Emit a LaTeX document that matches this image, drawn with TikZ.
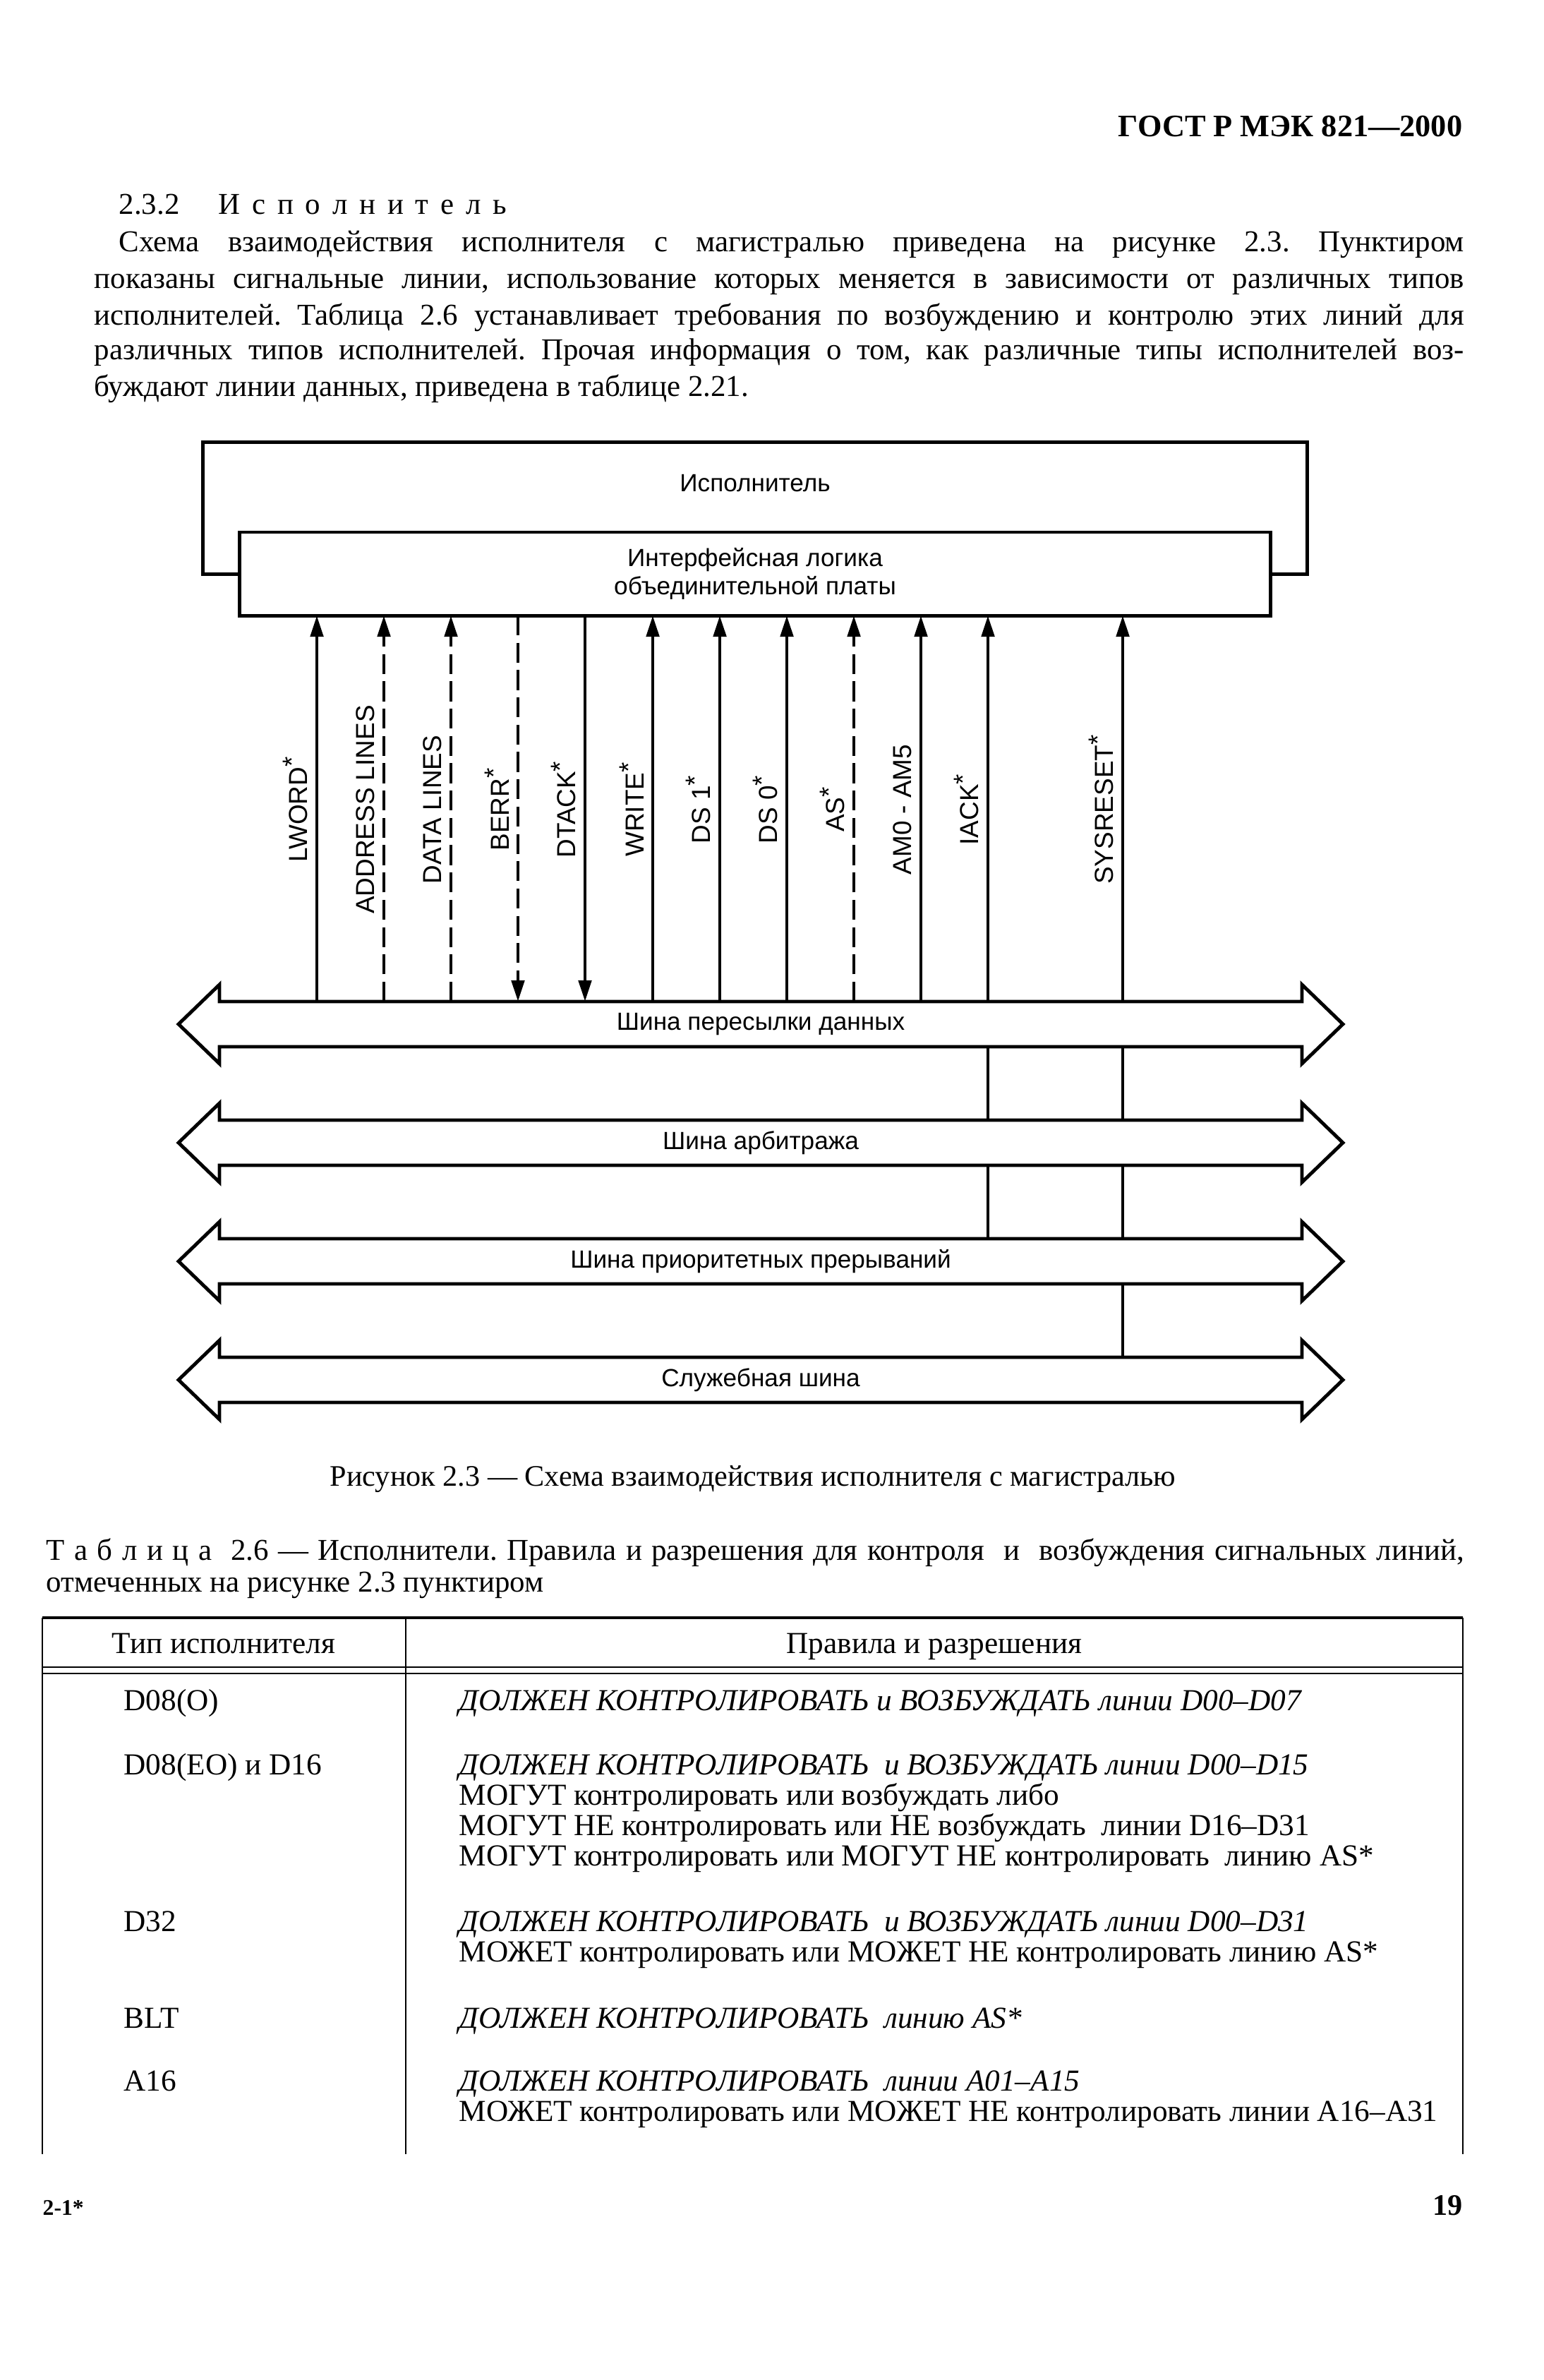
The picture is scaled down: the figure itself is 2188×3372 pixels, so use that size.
\documentclass[tikz,border=0pt]{standalone}
\usepackage{fontspec}
\setmainfont{Liberation Serif}
\newfontfamily\schemafont{Liberation Sans}
\usetikzlibrary{arrows.meta,calc,positioning}

\newcommand\nstar{\raisebox{0.25em}{*}}

\tikzset{
  schema/.style={font=\schemafont\fontsize{10}{11.6}\selectfont, inner sep=0},
  blockbox/.style={draw, line width=1.4pt, inner sep=0, outer sep=0},
  busline/.style={line width=1.4pt, line join=miter},
  sig/.style={line width=1.4pt},
  optsig/.style={sig, dash pattern=on 8pt off 3pt},
  sigtip/.style={-{Triangle[length=3mm,width=1.8mm]}},
  siglabel/.style={schema, font=\schemafont\fontsize{10.5}{12}\selectfont, rotate=90, anchor=south},
  txt/.style={inner sep=0, anchor=base west, font=\fontsize{12.2}{14}\selectfont},
  cell/.style={txt, font=\fontsize{12.3}{12.3}\selectfont},
  tabrule/.style={line width=0.7pt},
}
\tikzset{
  pics/bus/.style={
    code={
      \coordinate (-top) at (0,-32);
      \coordinate (-bot) at (0,32);
      % shaft with a head at each end
      \draw[busline] (-767,-32) -- (767,-32) -- (767,-56) -- (825,0) -- (767,56) -- (767,32)
        -- (-767,32) -- (-767,56) -- (-825,0) -- (-767,-56) -- cycle;
      \node[schema] (-label) at (0,0) {#1};
}}}

\begin{document}
\frenchspacing
\begin{tikzpicture}[x=0.01cm, y=-0.01cm]
  \fill[white] (0,0) rectangle (2188,3372);
  \useasboundingbox (0,0) rectangle (2188,3372);

  % page head and text
  \node[txt, anchor=base east, font=\bfseries\fontsize{12.6}{14}\selectfont] (gost) at (2073,193) {ГОСТ Р МЭК 821---2000};
  \node[txt] (secnum) at (168,303) {2.3.2};
  \node[txt] (sectitle) at (309,303) {\makebox[4.08cm][s]{И с п о л н и т е л ь}};
  \node[txt] (para1) at (168,356) {\makebox[19.05cm][s]{Схема взаимодействия исполнителя с магистралью приведена на рисунке 2.3. Пунктиром}};
  \node[txt] (para2) at (133,408) {\makebox[19.4cm][s]{показаны сигнальные линии, использование которых меняется в зависимости от различных типов}};
  \node[txt] (para3) at (133,460) {\makebox[19.4cm][s]{исполнителей. Таблица 2.6 устанавливает требования по возбуждению и контролю этих линий для}};
  \node[txt] (para4) at (133,509) {\makebox[19.4cm][s]{различных типов исполнителей. Прочая информация о том, как различные типы исполнителей воз-}};
  \node[txt] (para5) at (133,561) {буждают линии данных, приведена в таблице 2.21.};

  % slave and its interface logic
  \node[blockbox, minimum width=15.64cm, minimum height=1.87cm] (slave) at (1070,720) {};
  \node[schema] (slavename) at (1070,685) {Исполнитель};
  \node[blockbox, fill=white, minimum width=14.6cm, minimum height=1.18cm, align=center, schema] (logic) at (1070,813) {Интерфейсная логика\\объединительной платы};

  % buses
  \pic (dbus) at (1078,1451) {bus=Шина пересылки данных};
  \pic (abus) at (1078,1619) {bus=Шина арбитража};
  \pic (ibus) at (1078,1787) {bus=Шина приоритетных прерываний};
  \pic (sbus) at (1078,1955) {bus=Служебная шина};

  % signal lines
  \coordinate (lword) at (449,0);
  \coordinate (addr) at (544,0);
  \coordinate (data) at (639,0);
  \coordinate (berr) at (734,0);
  \coordinate (dtack) at (829,0);
  \coordinate (write) at (925,0);
  \coordinate (dsone) at (1020,0);
  \coordinate (dszero) at (1115,0);
  \coordinate (asl) at (1210,0);
  \coordinate (am) at (1305,0);
  \coordinate (iack) at (1400,0);
  \coordinate (sysreset) at (1591,0);
  \draw[sig, sigtip] (lword |- dbus-top) -- (lword |- logic.south);
  \draw[optsig, sigtip] (addr |- dbus-top) -- (addr |- logic.south);
  \draw[optsig, sigtip] (data |- dbus-top) -- (data |- logic.south);
  \draw[optsig, sigtip] (berr |- logic.south) -- (berr |- dbus-top);
  \draw[sig, sigtip] (dtack |- logic.south) -- (dtack |- dbus-top);
  \draw[sig, sigtip] (write |- dbus-top) -- (write |- logic.south);
  \draw[sig, sigtip] (dsone |- dbus-top) -- (dsone |- logic.south);
  \draw[sig, sigtip] (dszero |- dbus-top) -- (dszero |- logic.south);
  \draw[optsig, sigtip] (asl |- dbus-top) -- (asl |- logic.south);
  \draw[sig, sigtip] (am |- dbus-top) -- (am |- logic.south);
  \draw[sig, sigtip] (iack |- dbus-top) -- (iack |- logic.south);
  \draw[sig, sigtip] (sysreset |- dbus-top) -- (sysreset |- logic.south);
  \draw[sig] (iack |- dbus-bot) -- (iack |- abus-top);
  \draw[sig] (iack |- abus-bot) -- (iack |- ibus-top);
  \draw[sig] (sysreset |- dbus-bot) -- (sysreset |- abus-top);
  \draw[sig] (sysreset |- abus-bot) -- (sysreset |- ibus-top);
  \draw[sig] (sysreset |- ibus-bot) -- (sysreset |- sbus-top);

  \node[siglabel] (lword-text) at (437,1147) {LWORD\nstar};
  \node[siglabel] (addr-text) at (532,1147) {ADDRESS LINES};
  \node[siglabel] (data-text) at (627,1147) {DATA LINES};
  \node[siglabel] (berr-text) at (722,1147) {BERR\nstar};
  \node[siglabel] (dtack-text) at (817,1147) {DTACK\nstar};
  \node[siglabel] (write-text) at (913,1147) {WRITE\nstar};
  \node[siglabel] (dsone-text) at (1008,1147) {DS 1\nstar};
  \node[siglabel] (dszero-text) at (1103,1147) {DS 0\nstar};
  \node[siglabel] (asl-text) at (1198,1147) {AS\nstar};
  \node[siglabel] (am-text) at (1293,1147) {AM0 - AM5};
  \node[siglabel] (iack-text) at (1388,1147) {IACK\nstar};
  \node[siglabel] (sysreset-text) at (1579,1147) {SYSRESET\nstar};

  % captions
  \node[txt, anchor=base, font=\fontsize{12}{14}\selectfont] (figcap) at (1067,2105) {Рисунок 2.3 --- Схема взаимодействия исполнителя с магистралью};
  \node[txt] (tabcap1) at (65,2210) {\makebox[20.08cm][s]{Т а б л и ц а\ \ 2.6 --- Исполнители. Правила и разрешения для контроля\ \ и\ \ возбуждения сигнальных линий,}};
  \node[txt] (tabcap2) at (65,2255) {отмеченных на рисунке 2.3 пунктиром};

  % table
  \draw[line width=1.2pt] (60,2292) -- (2073,2292);
  \draw[tabrule] (60,2362) -- (2073,2362);
  \draw[tabrule] (60,2371) -- (2073,2371);
  \draw[tabrule] (60,2292) -- (60,3052);
  \draw[tabrule] (575,2292) -- (575,3052);
  \draw[tabrule] (2073,2292) -- (2073,3052);
  \node[cell, anchor=base] (head1) at (317,2342) {Тип исполнителя};
  \node[cell, anchor=base] (head2) at (1324,2342) {Правила и разрешения};

  \node[cell] (type1) at (175,2423) {D08(O)};
  \node[cell] (rule1) at (650,2423) {\itshape ДОЛЖЕН КОНТРОЛИРОВАТЬ и ВОЗБУЖДАТЬ линии D00--D07};
  \node[cell] (type2) at (175,2514) {D08(EO) и D16};
  \node[cell] (rule2a) at (650,2514) {\itshape ДОЛЖЕН КОНТРОЛИРОВАТЬ\ \ и ВОЗБУЖДАТЬ линии D00--D15};
  \node[cell] (rule2b) at (650,2557) {МОГУТ контролировать или возбуждать либо};
  \node[cell] (rule2c) at (650,2600) {МОГУТ НЕ контролировать или НЕ возбуждать\ \ линии D16--D31};
  \node[cell] (rule2d) at (650,2643) {МОГУТ контролировать или МОГУТ НЕ контролировать\ \ линию AS*};
  \node[cell] (type3) at (175,2736) {D32};
  \node[cell] (rule3a) at (650,2736) {\itshape ДОЛЖЕН КОНТРОЛИРОВАТЬ\ \ и ВОЗБУЖДАТЬ линии D00--D31};
  \node[cell] (rule3b) at (650,2779) {МОЖЕТ контролировать или МОЖЕТ НЕ контролировать линию AS*};
  \node[cell] (type4) at (175,2873) {BLT};
  \node[cell] (rule4) at (650,2873) {\itshape ДОЛЖЕН КОНТРОЛИРОВАТЬ\ \ линию AS*};
  \node[cell] (type5) at (175,2962) {A16};
  \node[cell] (rule5a) at (650,2962) {\itshape ДОЛЖЕН КОНТРОЛИРОВАТЬ\ \ линии A01--A15};
  \node[cell] (rule5b) at (650,3005) {МОЖЕТ контролировать или МОЖЕТ НЕ контролировать линии A16--A31};

  % page foot
  \node[txt, font=\bfseries\fontsize{9}{10}\selectfont] (sheet) at (60,3138) {2-1*};
  \node[txt, anchor=base east, font=\bfseries\fontsize{12}{14}\selectfont] (pagenum) at (2073,3138) {19};
\end{tikzpicture}
\end{document}
